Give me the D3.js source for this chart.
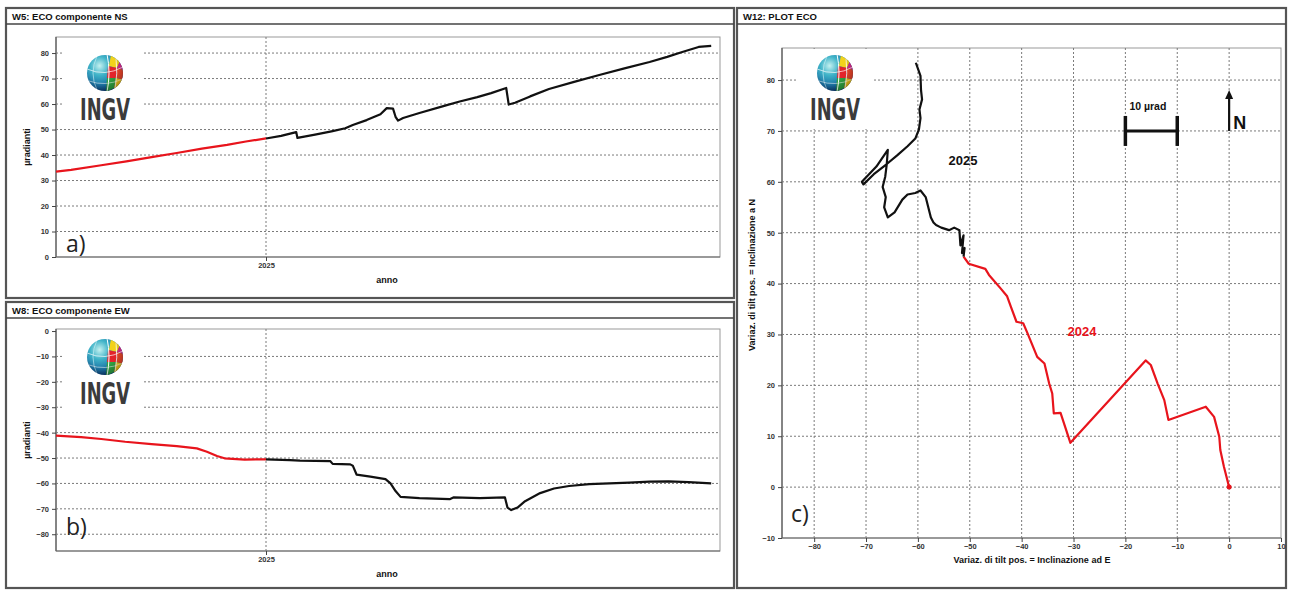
<!DOCTYPE html>
<html><head><meta charset="utf-8">
<script src="https://cdn.jsdelivr.net/npm/d3@7"></script>
<style>body{margin:0;background:#fff}svg{display:block}</style>
</head><body><svg id="chart" width="1290" height="590"></svg>
<script>
// ---------- DATA ----------
const nsRedDates = ["2024-07-18","2024-07-30","2024-08-23","2024-09-12","2024-10-02","2024-10-22","2024-11-11","2024-12-01","2024-12-16","2025-01-01"];
const nsRedValues = [33.5,34.2,36.0,37.5,39.2,40.8,42.5,44.0,45.3,46.5];
const nsBlackDates = ["2025-01-01","2025-01-13","2025-01-25","2025-01-26","2025-02-09","2025-02-23","2025-03-05","2025-03-11","2025-03-22","2025-04-02","2025-04-07","2025-04-12","2025-04-14","2025-04-16","2025-04-20","2025-05-03","2025-05-22","2025-06-04","2025-06-18","2025-06-29","2025-07-11","2025-07-13","2025-07-18","2025-07-30","2025-08-14","2025-09-03","2025-09-23","2025-10-13","2025-11-02","2025-11-16","2025-11-28","2025-12-11","2025-12-21"];
const nsBlackValues = [46.5,47.5,49.0,46.7,48.0,49.4,50.5,51.8,53.7,56.0,58.4,58.2,55.0,53.5,54.5,56.5,59.2,61.0,62.7,64.3,66.3,59.8,60.5,63.0,65.9,68.7,71.4,74.0,76.5,78.5,80.4,82.4,82.8];

const ewRedDates = ["2024-07-18","2024-08-07","2024-08-23","2024-09-11","2024-10-02","2024-10-22","2024-11-07","2024-11-15","2024-11-23","2024-11-29","2024-12-15","2025-01-01"];
const ewRedValues = [-41.2,-41.8,-42.5,-43.6,-44.5,-45.3,-46.2,-47.5,-49.2,-50.1,-50.6,-50.5];
const ewBlackDates = ["2025-01-01","2025-01-20","2025-01-28","2025-02-21","2025-02-23","2025-03-09","2025-03-11","2025-03-14","2025-03-25","2025-04-06","2025-04-10","2025-04-14","2025-04-18","2025-05-03","2025-05-27","2025-05-30","2025-06-20","2025-07-10","2025-07-12","2025-07-15","2025-07-20","2025-07-26","2025-08-07","2025-08-18","2025-08-30","2025-09-15","2025-10-01","2025-10-17","2025-11-02","2025-11-17","2025-12-03","2025-12-21"];
const ewBlackValues = [-50.5,-50.8,-51.0,-51.2,-52.3,-52.5,-53.0,-56.5,-57.3,-58.3,-60.0,-63.0,-65.3,-65.8,-66.2,-65.5,-65.8,-65.5,-69.5,-70.5,-69.5,-67.0,-63.8,-62.0,-61.0,-60.3,-60.0,-59.7,-59.3,-59.2,-59.5,-60.0];

// Plot ECO (E, N) trajectory
const plotE2024 = [0,-1.0,-1.7,-1.9,-2.9,-4.5,-11.7,-12.5,-13.8,-15.1,-16.1,-30.6,-32.5,-33.8,-34.1,-34.7,-35.6,-37.0,-38.9,-39.7,-41.0,-42.1,-42.8,-44.1,-46.3,-47.0,-50.2,-51.2];
const plotN2024 = [0,4.0,7.3,9.9,13.8,15.8,13.2,17.1,20.4,24.0,24.9,8.7,14.6,14.5,18.4,20.4,24.3,25.6,30.3,32.2,32.5,35.5,37.5,39.1,41.7,42.9,43.9,45.3];
const plotE2025 = [-51.2,-51.0,-51.5,-51.2,-51.8,-52.0,-53.0,-54.0,-55.5,-56.5,-57.0,-57.5,-58.0,-58.5,-59.5,-60.5,-62.0,-63.0,-64.5,-65.8,-66.5,-66.2,-66.8,-66.3,-66.0,-65.8,-68.0,-70.8,-70.5,-68.5,-66.0,-64.0,-62.0,-60.5,-59.8,-59.5,-59.7,-59.2,-59.4,-59.5,-60.4];
const plotN2025 = [45.3,47.0,46.0,49.5,47.5,50.5,51.0,50.5,51.0,51.5,52.0,53.0,55.0,57.0,58.3,57.8,57.5,56.5,54.0,53.0,55.0,57.0,59.0,61.0,63.5,66.3,63.0,60.0,59.5,61.5,63.5,65.2,67.0,68.5,70.3,72.5,74.2,76.2,78.0,80.8,83.4];

const nsTicks = [0,10,20,30,40,50,60,70,80];
const ewTicks = [0,-10,-20,-30,-40,-50,-60,-70,-80];
const cXTicks = [-80,-70,-60,-50,-40,-30,-20,-10,0,10];
const cYTicks = [-10,0,10,20,30,40,50,60,70,80];
const yearTick = ["2025-01-01"];

// ---------- DRAW ----------
const svg = d3.select("#chart");
const parse = d3.utcParse("%Y-%m-%d");
const FONT = "'Liberation Sans', Arial, sans-serif";
const RED = "#e8141c", BLK = "#111";

const defs = svg.append("defs");
const rg = defs.append("radialGradient").attr("id","globeGrad").attr("cx","35%").attr("cy","30%").attr("r","75%");
rg.append("stop").attr("offset","0%").attr("stop-color","#c4f1f0");
rg.append("stop").attr("offset","35%").attr("stop-color","#3fb3c8");
rg.append("stop").attr("offset","75%").attr("stop-color","#1a6fa3");
rg.append("stop").attr("offset","100%").attr("stop-color","#0b3772");
const sh = defs.append("radialGradient").attr("id","shade").attr("cx","40%").attr("cy","35%").attr("r","70%");
sh.append("stop").attr("offset","60%").attr("stop-color","#000").attr("stop-opacity",0);
sh.append("stop").attr("offset","100%").attr("stop-color","#000").attr("stop-opacity",0.3);

svg.append("rect").attr("width",1290).attr("height",590).attr("fill","#fff");

function frame(x,y,w,h,title){
  svg.append("rect").attr("x",x).attr("y",y).attr("width",w).attr("height",h)
    .attr("fill","#fff").attr("stroke","#555").attr("stroke-width",2.2);
  svg.append("line").attr("x1",x).attr("x2",x+w).attr("y1",y+16).attr("y2",y+16)
    .attr("stroke","#444").attr("stroke-width",1.4);
  svg.append("text").attr("x",x+6).attr("y",y+12).attr("font-family",FONT)
    .attr("font-size",9.5).attr("font-weight","bold").attr("fill","#111").text(title);
}

let logoId = 0;
function logo(cx, cy, box){
  svg.append("rect").attr("x",box[0]).attr("y",box[1]).attr("width",box[2]).attr("height",box[3]).attr("fill","#fff");
  const id = "gclip"+(logoId++);
  defs.append("clipPath").attr("id",id).append("circle").attr("cx",0).attr("cy",0).attr("r",18);
  const g = svg.append("g").attr("transform",`translate(${cx},${cy})`);
  g.append("circle").attr("r",18).attr("fill","url(#globeGrad)");
  const gc = g.append("g").attr("clip-path",`url(#${id})`);
  const patches = [
    [[6,-18],[15,-12],[12,-5],[4,-7],"#f2d21b"],
    [[15,-12],[19,-7],[19,-3],[12,-5],"#d62a8a"],
    [[3,-7],[12,-5],[11,5],[2,5],"#e3242b"],
    [[12,-5],[19,-3],[19,7],[11,5],"#e8452a"],
    [[2,5],[11,5],[9,15],[1,19],"#2fa043"],
    [[11,5],[19,7],[17,14],[9,15],"#f0c419"]
  ];
  patches.forEach(p=>{
    gc.append("path").attr("d","M"+p.slice(0,4).map(q=>q.join(",")).join("L")+"Z").attr("fill",p[4]);
  });
  gc.append("path").attr("d","M2,-19 Q6,0 2,19").attr("fill","none").attr("stroke","#fff").attr("stroke-width",1);
  gc.append("path").attr("d","M11,-16 Q13,0 10,17").attr("fill","none").attr("stroke","#fff").attr("stroke-width",0.8);
  gc.append("path").attr("d","M-8,-17 Q-16,0 -8,17").attr("fill","none").attr("stroke","#e0f7fa").attr("stroke-width",0.7).attr("opacity",0.8);
  gc.append("path").attr("d","M-18,-4 Q0,4 18,-6").attr("fill","none").attr("stroke","#fff").attr("stroke-width",0.8).attr("opacity",0.85);
  gc.append("path").attr("d","M-16,8 Q0,14 18,6").attr("fill","none").attr("stroke","#fff").attr("stroke-width",0.7).attr("opacity",0.75);
  g.append("circle").attr("r",18).attr("fill","url(#shade)");
  svg.append("text").attr("x",cx).attr("y",cy+47).attr("text-anchor","middle")
    .attr("font-family","'DejaVu Sans', sans-serif").attr("font-weight","bold")
    .attr("font-size",30).attr("fill","#3b3b3b").attr("textLength",50).attr("lengthAdjust","spacingAndGlyphs").text("INGV");
}

function styleAxis(g){
  g.select(".domain").remove();
  g.selectAll(".tick line").attr("stroke","#444");
  g.selectAll(".tick text").attr("font-family",FONT).attr("font-size",7.5).attr("font-weight","bold").attr("fill","#333");
}

function plotFrame(l,t,r,b){
  svg.append("rect").attr("x",l).attr("y",t).attr("width",r-l).attr("height",b-t)
    .attr("fill","none").attr("stroke","#999").attr("stroke-width",1);
  svg.append("line").attr("x1",l).attr("x2",l).attr("y1",t).attr("y2",b).attr("stroke","#555").attr("stroke-width",1.2);
  svg.append("line").attr("x1",l).attr("x2",r).attr("y1",b).attr("y2",b).attr("stroke","#666").attr("stroke-width",1.2);
}

const grid = {stroke:"#7a7a7a", dash:"2,2", w:1};

function timePanel(cfg){
  const {top,bottom,yDomain,yTicks,red,black,label,logoC,logoBox,letterY} = cfg;
  const L=56, R=720;
  const x = d3.scaleUtc().domain([parse("2024-07-18"), parse("2025-12-28")]).range([L,R]);
  const y = d3.scaleLinear().domain(yDomain).range([bottom,top]);
  plotFrame(L,top,R,bottom);
  const gg = svg.append("g");
  yTicks.filter(v=>Math.abs(y(v)-bottom)>3 && Math.abs(y(v)-top)>3).forEach(v=>{
    gg.append("line").attr("x1",L).attr("x2",R).attr("y1",y(v)).attr("y2",y(v))
      .attr("stroke",grid.stroke).attr("stroke-dasharray",grid.dash).attr("stroke-width",grid.w);
  });
  yearTick.forEach(d=>{
    gg.append("line").attr("x1",x(parse(d))).attr("x2",x(parse(d))).attr("y1",top).attr("y2",bottom)
      .attr("stroke",grid.stroke).attr("stroke-dasharray",grid.dash).attr("stroke-width",grid.w);
  });
  logo(logoC[0],logoC[1],logoBox);
  svg.append("g").attr("transform",`translate(${L},0)`)
    .call(d3.axisLeft(y).tickValues(yTicks).tickSize(4).tickPadding(3)).call(styleAxis);
  svg.append("g").attr("transform",`translate(0,${bottom})`)
    .call(d3.axisBottom(x).tickValues(yearTick.map(parse)).tickSize(4).tickPadding(2).tickFormat(d3.utcFormat("%Y"))).call(styleAxis);
  const line = d3.line().x(d=>x(d[0])).y(d=>y(d[1]));
  svg.append("path").datum(red[0].map((d,i)=>[parse(d),red[1][i]])).attr("d",line)
    .attr("fill","none").attr("stroke",RED).attr("stroke-width",2.2).attr("stroke-linejoin","round");
  svg.append("path").datum(black[0].map((d,i)=>[parse(d),black[1][i]])).attr("d",line)
    .attr("fill","none").attr("stroke",BLK).attr("stroke-width",2.2).attr("stroke-linejoin","round");
  svg.append("text").attr("transform",`translate(30,${(top+bottom)/2}) rotate(-90)`).attr("text-anchor","middle")
    .attr("font-family",FONT).attr("font-size",9).attr("font-weight","bold").attr("fill","#111").text("µradianti");
  svg.append("text").attr("x",387).attr("y",bottom+26).attr("text-anchor","middle")
    .attr("font-family",FONT).attr("font-size",9).attr("font-weight","bold").attr("fill","#111").text("anno");
  svg.append("text").attr("x",66).attr("y",letterY).attr("font-family","'Open Sans', sans-serif")
    .attr("font-size",23).attr("fill","#222").text(label);
}

frame(6,8,728,290,"W5: ECO componente NS");
frame(6,302,728,286,"W8: ECO componente EW");
frame(737,8,549,580,"W12: PLOT ECO");

timePanel({top:37,bottom:257,yDomain:[0,86.3],yTicks:nsTicks,red:[nsRedDates,nsRedValues],black:[nsBlackDates,nsBlackValues],
  label:"a)",logoC:[105,73],logoBox:[63,39,80,86],letterY:252});
timePanel({top:329,bottom:551,yDomain:[-86.6,0.8],yTicks:ewTicks,red:[ewRedDates,ewRedValues],black:[ewBlackDates,ewBlackValues],
  label:"b)",logoC:[105,357],logoBox:[63,333,80,82],letterY:535});

// ---- Panel c ----
(function(){
  const L=782,R=1281,T=48,B=538;
  const x = d3.scaleLinear().domain([-86.2,10]).range([L,R]);
  const y = d3.scaleLinear().domain([-10,86.3]).range([B,T]);
  plotFrame(L,T,R,B);
  const gg = svg.append("g");
  cXTicks.filter(v=>Math.abs(x(v)-R)>3).forEach(v=>{
    gg.append("line").attr("x1",x(v)).attr("x2",x(v)).attr("y1",T).attr("y2",B)
      .attr("stroke",grid.stroke).attr("stroke-dasharray",grid.dash).attr("stroke-width",grid.w);
  });
  cYTicks.filter(v=>Math.abs(y(v)-B)>3).forEach(v=>{
    gg.append("line").attr("x1",L).attr("x2",R).attr("y1",y(v)).attr("y2",y(v))
      .attr("stroke",grid.stroke).attr("stroke-dasharray",grid.dash).attr("stroke-width",grid.w);
  });
  logo(835,73,[797,49,76,80]);
  svg.append("g").attr("transform",`translate(${L},0)`)
    .call(d3.axisLeft(y).tickValues(cYTicks).tickSize(4).tickPadding(3)).call(styleAxis);
  svg.append("g").attr("transform",`translate(0,${B})`)
    .call(d3.axisBottom(x).tickValues(cXTicks).tickSize(4).tickPadding(2)).call(styleAxis);
  const line = d3.line().x(d=>x(d[0])).y(d=>y(d[1]));
  svg.append("path").datum(plotE2024.map((e,i)=>[e,plotN2024[i]])).attr("d",line)
    .attr("fill","none").attr("stroke",RED).attr("stroke-width",2.2).attr("stroke-linejoin","round");
  svg.append("path").datum(plotE2025.map((e,i)=>[e,plotN2025[i]])).attr("d",line)
    .attr("fill","none").attr("stroke",BLK).attr("stroke-width",2.2).attr("stroke-linejoin","round");
  svg.append("circle").attr("cx",x(plotE2024[0])).attr("cy",y(plotN2024[0])).attr("r",2.5).attr("fill",RED);
  svg.append("text").attr("x",963).attr("y",165).attr("text-anchor","middle").attr("font-family",FONT)
    .attr("font-size",13).attr("font-weight","bold").attr("fill","#111").text("2025");
  svg.append("text").attr("x",1082).attr("y",336).attr("text-anchor","middle").attr("font-family",FONT)
    .attr("font-size",13).attr("font-weight","bold").attr("fill",RED).text("2024");
  const sb0 = x(-20), sb1 = x(-10), sby = y(70);
  svg.append("line").attr("x1",sb0).attr("x2",sb1).attr("y1",sby).attr("y2",sby).attr("stroke","#111").attr("stroke-width",3);
  [sb0,sb1].forEach(px=>svg.append("line").attr("x1",px).attr("x2",px).attr("y1",sby-15).attr("y2",sby+15).attr("stroke","#111").attr("stroke-width",3.5));
  svg.append("text").attr("x",sb0+4).attr("y",sby-21).attr("font-family",FONT).attr("font-size",10.5)
    .attr("font-weight","bold").attr("fill","#111").text("10 µrad");
  const nx = x(0);
  svg.append("line").attr("x1",nx).attr("x2",nx).attr("y1",sby).attr("y2",sby-33).attr("stroke","#111").attr("stroke-width",2.2);
  svg.append("path").attr("d",`M${nx-4},${sby-32}L${nx},${sby-41}L${nx+4},${sby-32}Z`).attr("fill","#111");
  svg.append("text").attr("x",nx+4).attr("y",sby-2).attr("font-family",FONT).attr("font-size",18)
    .attr("font-weight","bold").attr("fill","#111").text("N");
  svg.append("text").attr("transform",`translate(755,275) rotate(-90)`).attr("text-anchor","middle")
    .attr("font-family",FONT).attr("font-size",9).attr("font-weight","bold").attr("fill","#111").text("Variaz. di tilt pos. = Inclinazione a N");
  svg.append("text").attr("x",1032).attr("y",563).attr("text-anchor","middle")
    .attr("font-family",FONT).attr("font-size",9).attr("font-weight","bold").attr("fill","#111").text("Variaz. di tilt pos. = Inclinazione ad E");
  svg.append("text").attr("x",791).attr("y",522).attr("font-family","'Open Sans', sans-serif")
    .attr("font-size",23).attr("fill","#222").text("c)");
})();
</script>
</body></html>
